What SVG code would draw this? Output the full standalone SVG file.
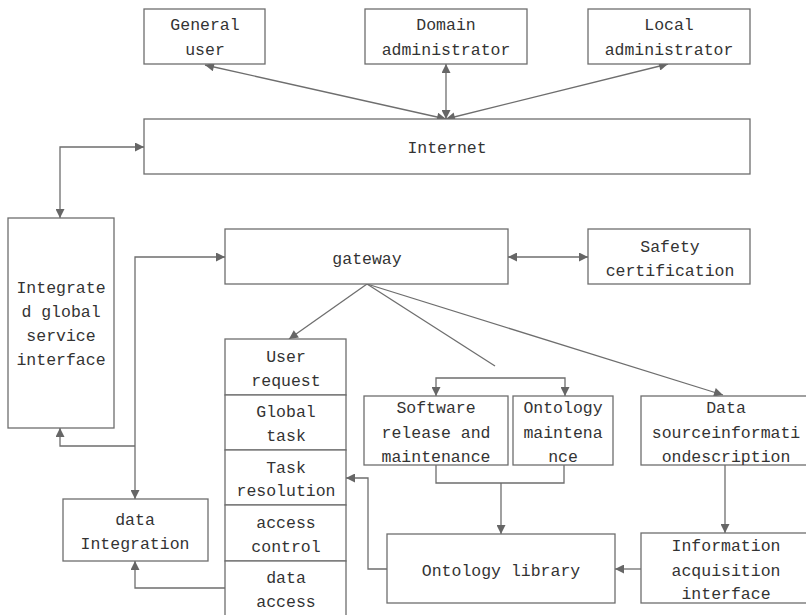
<svg xmlns="http://www.w3.org/2000/svg" width="806" height="615" viewBox="0 0 806 615">
<defs>
<style>
.box{fill:#fff;stroke:#6e6e6e;stroke-width:1.3}
.t{font-family:"Liberation Mono","DejaVu Sans Mono",monospace;font-size:16.5px;fill:#333;text-anchor:middle}
.c{fill:none;stroke:#6e6e6e;stroke-width:1.3}
</style>
<marker id="a" viewBox="0 0 10 10" refX="10" refY="5" markerWidth="11" markerHeight="9" markerUnits="userSpaceOnUse" orient="auto-start-reverse"><path d="M0,0 L10,5 L0,10 z" fill="#666"/></marker>
</defs>
<rect width="806" height="615" fill="#fff"/>
<g id="connectors">
<path class="c" d="M205,65 L446,119" marker-start="url(#a)" marker-end="url(#a)"/>
<path class="c" d="M446,64 L446,119" marker-start="url(#a)" marker-end="url(#a)"/>
<path class="c" d="M668,64 L446,119" marker-start="url(#a)" marker-end="url(#a)"/>
<path class="c" d="M60,218 L60,147 L144,147" marker-start="url(#a)" marker-end="url(#a)"/>
<path class="c" d="M225,257 L135,257 L135,499" marker-start="url(#a)" marker-end="url(#a)"/>
<path class="c" d="M135,446 L60,446 L60,428" marker-end="url(#a)"/>
<path class="c" d="M508,257 L588,257" marker-start="url(#a)" marker-end="url(#a)"/>
<path class="c" d="M367,284 L289,339" marker-end="url(#a)"/>
<path class="c" d="M367,284 L495,366"/>
<path class="c" d="M367,284 L723,395" marker-end="url(#a)"/>
<path class="c" d="M436,396 L436,378 L565,378 L565,396" marker-start="url(#a)" marker-end="url(#a)"/>
<path class="c" d="M436,465 L436,483 L564,483 L564,465"/>
<path class="c" d="M501,483 L501,534" marker-end="url(#a)"/>
<path class="c" d="M725,465 L725,533" marker-end="url(#a)"/>
<path class="c" d="M641,569 L615,569" marker-end="url(#a)"/>
<path class="c" d="M387,569 L368,569 L368,478 L346,478" marker-end="url(#a)"/>
<path class="c" d="M225,588 L135,588 L135,561" marker-end="url(#a)"/>
</g>
<g id="general-user"><rect class="box" x="144" y="9" width="121" height="55"/><text class="t" x="205" y="30">General</text><text class="t" x="205" y="55">user</text></g>
<g id="domain-admin"><rect class="box" x="365" y="9" width="162" height="55"/><text class="t" x="446" y="30">Domain</text><text class="t" x="446" y="55">administrator</text></g>
<g id="local-admin"><rect class="box" x="588" y="9" width="162" height="55"/><text class="t" x="669" y="30">Local</text><text class="t" x="669" y="55">administrator</text></g>
<g id="internet"><rect class="box" x="144" y="119" width="606" height="55"/><text class="t" x="447" y="153">Internet</text></g>
<g id="integrated"><rect class="box" x="8" y="218" width="106" height="210"/><text class="t" x="61" y="293">Integrate</text><text class="t" x="61" y="317">d global</text><text class="t" x="61" y="341">service</text><text class="t" x="61" y="365">interface</text></g>
<g id="gateway"><rect class="box" x="225" y="229" width="283" height="55"/><text class="t" x="367" y="264">gateway</text></g>
<g id="safety"><rect class="box" x="588" y="229" width="162" height="55"/><text class="t" x="670" y="252">Safety</text><text class="t" x="670" y="276">certification</text></g>
<g id="user-request"><rect class="box" x="225" y="339" width="121" height="56"/><text class="t" x="286" y="362">User</text><text class="t" x="286" y="386">request</text></g>
<g id="global-task"><rect class="box" x="225" y="395" width="121" height="55"/><text class="t" x="286" y="417">Global</text><text class="t" x="286" y="441">task</text></g>
<g id="task-resolution"><rect class="box" x="225" y="450" width="121" height="55"/><text class="t" x="286" y="473">Task</text><text class="t" x="286" y="496">resolution</text></g>
<g id="access-control"><rect class="box" x="225" y="505" width="121" height="56"/><text class="t" x="286" y="528">access</text><text class="t" x="286" y="552">control</text></g>
<g id="data-access"><rect class="box" x="225" y="561" width="121" height="56"/><text class="t" x="286" y="583">data</text><text class="t" x="286" y="607">access</text></g>
<g id="data-integration"><rect class="box" x="63" y="499" width="145" height="62"/><text class="t" x="135" y="525">data</text><text class="t" x="135" y="549">Integration</text></g>
<g id="software"><rect class="box" x="364" y="396" width="144" height="69"/><text class="t" x="436" y="413">Software</text><text class="t" x="436" y="438">release and</text><text class="t" x="436" y="462">maintenance</text></g>
<g id="ontology-maint"><rect class="box" x="513" y="396" width="100" height="69"/><text class="t" x="563" y="413">Ontology</text><text class="t" x="563" y="438">maintena</text><text class="t" x="563" y="462">nce</text></g>
<g id="data-source"><rect class="box" x="641" y="396" width="170" height="69"/><text class="t" x="726" y="413">Data</text><text class="t" x="726" y="438">sourceinformati</text><text class="t" x="726" y="462">ondescription</text></g>
<g id="ontology-library"><rect class="box" x="387" y="534" width="228" height="69"/><text class="t" x="501" y="576">Ontology library</text></g>
<g id="info-acq"><rect class="box" x="641" y="533" width="170" height="70"/><text class="t" x="726" y="551">Information</text><text class="t" x="726" y="576">acquisition</text><text class="t" x="726" y="599">interface</text></g>
</svg>
